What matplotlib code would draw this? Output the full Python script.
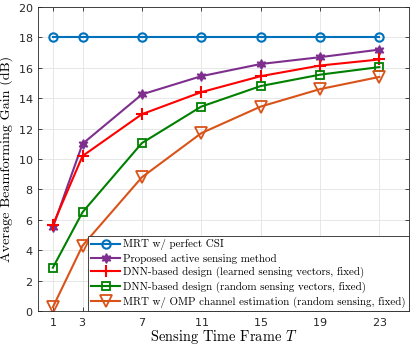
import numpy as np
import matplotlib
matplotlib.use('Agg')
import matplotlib.pyplot as plt

# data
T = [1, 3, 7, 11, 15, 19, 23]
mrt_perfect = [18, 18, 18, 18, 18, 18, 18]
proposed = [5.5, 11.0, 14.25, 15.45, 16.25, 16.7, 17.2]
dnn_learned = [5.65, 10.2, 12.95, 14.4, 15.45, 16.15, 16.55]
dnn_random = [2.85, 6.5, 11.05, 13.45, 14.8, 15.55, 16.05]
mrt_omp = [0.25, 4.3, 8.8, 11.7, 13.45, 14.6, 15.4]

labels = ['MRT w/ perfect CSI',
          'Proposed active sensing method',
          'DNN-based design (learned sensing vectors, fixed)',
          'DNN-based design (random sensing vectors, fixed)',
          'MRT w/ OMP channel estimation (random sensing, fixed)']

plt.rcParams['mathtext.fontset'] = 'cm'
plt.rcParams['axes.formatter.use_mathtext'] = True
serif = 'cmr10'

fig = plt.figure(figsize=(4.15, 3.45), dpi=100)
ax = fig.add_axes([0.0916, 0.0986, 0.894, 0.881])

ax.plot(T, mrt_perfect, color='#0072BD', lw=1.5, marker='o', ms=6,
        mfc='none', mew=1.5, label=labels[0])
ax.plot(T, proposed, color='#7E2F8E', lw=1.5, marker=(6, 1, 0), ms=7,
        label=labels[1])
ax.plot(T, dnn_learned, color='#FF0000', lw=1.5, marker='+', ms=8,
        mew=1.5, label=labels[2])
ax.plot(T, dnn_random, color='#008000', lw=1.5, marker='s', ms=5.5,
        mfc='none', mew=1.3, label=labels[3])
ax.plot(T, mrt_omp, color='#D95319', lw=1.5, marker='v', ms=8,
        mfc='none', mew=1.3, label=labels[4])

ax.set_xlim(0, 25)
ax.set_ylim(0, 20)
ax.set_xticks(T)
ax.set_yticks(np.arange(0, 21, 2))
ax.tick_params(direction='in', top=True, right=True, labelsize=8,
               colors='#262626', length=3, width=0.6)
ax.grid(True, color='#e3e3e3', lw=0.6)
ax.set_axisbelow(True)
for s in ax.spines.values():
    s.set_color('#262626')
    s.set_linewidth(0.6)

ax.set_xlabel('Sensing Time Frame $T$', fontfamily=serif, fontsize=10.4,
              labelpad=0)
ax.set_ylabel('Average Beamforming Gain (dB)', fontfamily=serif,
              fontsize=10.2, labelpad=3)

leg = ax.legend(loc='lower right', borderaxespad=0, fancybox=False,
                edgecolor='#262626', prop={'family': serif, 'size': 7.9},
                handlelength=2.6, labelspacing=0.3, borderpad=0.3,
                handletextpad=0.3, framealpha=1)
leg.get_frame().set_linewidth(0.6)

fig.savefig('out.png', dpi=100)
